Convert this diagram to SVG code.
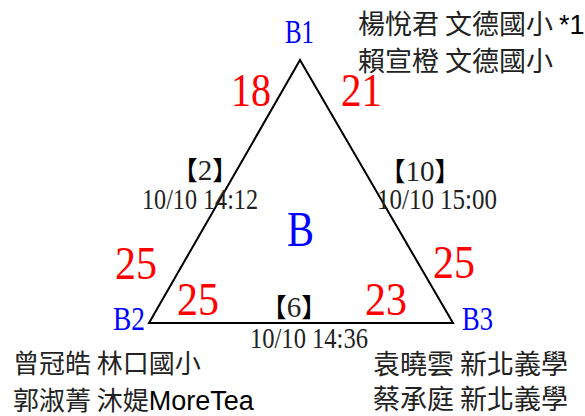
<svg xmlns="http://www.w3.org/2000/svg" width="585" height="416" viewBox="0 0 585 416">
<style>
.serif{font-family:"Liberation Serif","Times New Roman",serif}
.cjk{font-family:"Noto Sans CJK TC","Noto Sans CJK SC",sans-serif;font-size:26px;fill:#222}
.cjkr{font-size:27px}
.lat{font-family:"Liberation Sans",Arial,sans-serif;font-size:27px;fill:#000}
.vlab{font-family:"Liberation Serif",serif;font-size:33px;fill:#0000ff}
.score{font-family:"Liberation Serif",serif;font-size:47px;fill:#ff0000}
.ts{font-family:"Liberation Serif",serif;font-size:29px;fill:#222}
.br{font-family:"Noto Sans CJK TC",sans-serif;font-size:26px;fill:#000}
</style>
<rect width="585" height="416" fill="#fff"/>
<g id="connectors">
<polygon points="300,60 149,323 453,323" fill="none" stroke="#000" stroke-width="2" stroke-linejoin="miter"/>
</g>
<g id="B1">
<text class="vlab" x="285" y="43" textLength="29" lengthAdjust="spacingAndGlyphs">B1</text>
<text class="cjk cjkr" x="358" y="34">楊悅君 文德國小 <tspan class="lat">*1</tspan></text>
<text class="cjk cjkr" x="358" y="71">賴宣橙 文德國小</text>
</g>
<g id="B2">
<text class="vlab" x="113" y="330" textLength="32" lengthAdjust="spacingAndGlyphs">B2</text>
<text class="cjk" x="13" y="373">曾冠皓 林口國小</text>
<text class="cjk" x="13" y="410">郭淑菁 沐媞<tspan class="lat">MoreTea</tspan></text>
</g>
<g id="B3">
<text class="vlab" x="462" y="330" textLength="31" lengthAdjust="spacingAndGlyphs">B3</text>
<text class="cjk cjkr" x="373" y="374">袁曉雲 新北義學</text>
<text class="cjk cjkr" x="373" y="409">蔡承庭 新北義學</text>
</g>
<g id="B">
<text class="serif" x="287" y="246" font-size="51" fill="#0000ff" textLength="27" lengthAdjust="spacingAndGlyphs">B</text>
</g>
<g id="scores">
<text class="score" x="231" y="106" textLength="40" lengthAdjust="spacingAndGlyphs">18</text>
<text class="score" x="341" y="106" textLength="41" lengthAdjust="spacingAndGlyphs">21</text>
<text class="score" x="115" y="279" textLength="42" lengthAdjust="spacingAndGlyphs">25</text>
<text class="score" x="433" y="278" textLength="42" lengthAdjust="spacingAndGlyphs">25</text>
<text class="score" x="177" y="315" textLength="42" lengthAdjust="spacingAndGlyphs">25</text>
<text class="score" x="365" y="315" textLength="42" lengthAdjust="spacingAndGlyphs">23</text>
</g>
<g id="match-2">
<text class="br" x="205" y="180" text-anchor="middle">【<tspan class="ts">2</tspan>】</text>
<text class="ts" x="200" y="209" text-anchor="middle" textLength="116" lengthAdjust="spacingAndGlyphs">10/10 14:12</text>
</g>
<g id="match-10">
<text class="br" x="420" y="181" text-anchor="middle">【<tspan class="ts">10</tspan>】</text>
<text class="ts" x="437" y="209" text-anchor="middle" textLength="120" lengthAdjust="spacingAndGlyphs">10/10 15:00</text>
</g>
<g id="match-6">
<text class="br" x="294" y="317" text-anchor="middle">【<tspan class="ts">6</tspan>】</text>
<text class="ts" x="309" y="348" text-anchor="middle" textLength="118" lengthAdjust="spacingAndGlyphs">10/10 14:36</text>
</g>
</svg>
